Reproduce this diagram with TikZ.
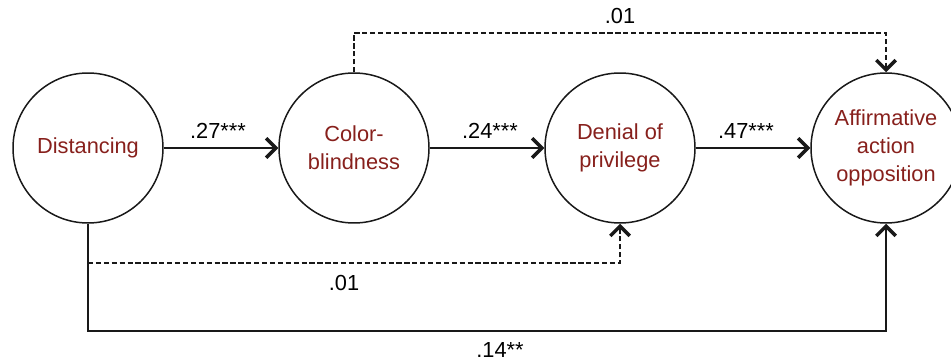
\documentclass[tikz,border=0pt]{standalone}
\usepackage{fontspec}
\setmainfont{Liberation Sans}
\usetikzlibrary{positioning, arrows.meta, calc}
\definecolor{VarRed}{RGB}{135,32,28}
\definecolor{PathGray}{RGB}{25,25,25}

\begin{document}
\begin{tikzpicture}[
          var/.style={circle, draw=PathGray, line width=0.85pt, minimum size=3cm,
                      inner sep=0pt, align=center, text=VarRed, font=\fontsize{12.4}{16}\selectfont},
          coef/.style={font=\fontsize{12.4}{15}\selectfont, text=black},
          path/.style={-{Straight Barb[length=5.5pt, width=11pt, line width=2pt]}, line width=1.25pt, PathGray},
          nspath/.style={-{Straight Barb[length=5.5pt, width=11pt, line width=2pt]}, line width=0.85pt,
                         dash pattern=on 3pt off 1.5pt, PathGray}
        ]
        \useasboundingbox (0,0) rectangle (19.02,7.24);

        % Variables
        \node[var] (dist) at (1.76, 4.28) {Distancing};
        \node[var] (cb)   at (7.08, 4.28) {Color-\\blindness};
        \node[var] (den)  at (12.40, 4.28) {Denial of\\privilege};
        \node[var] (aao)  at (17.72, 4.28) {Affirmative\\action\\opposition};

        % Direct chain
        \draw[path] (dist) -- (cb);
        \draw[path] (cb) -- (den);
        \draw[path] (den) -- (aao);
        \node[coef] at (4.36, 4.62) {.27***};
        \node[coef] at (9.80, 4.62) {.24***};
        \node[coef] at (14.92, 4.62) {.47***};

        % Color-blindness -> opposition (ns)
        \coordinate (topR) at (17.72, 6.58);
        \draw[nspath] (cb.north) |- (topR) -- (aao.north);
        \node[coef] (ctop) at (12.40, 6.92) {.01};

        % Distancing -> denial (ns)
        \coordinate (botJ) at (1.76, 1.98);
        \coordinate (botD) at (12.40, 1.98);
        \draw[nspath] (botJ) -- (botD) -- (den.south);
        \node[coef] (cmid) at (6.88, 1.58) {.01};

        % Distancing -> opposition
        \coordinate (botR) at (17.72, 0.62);
        \draw[path] (dist.south) |- (botR) -- (aao.south);
        \node[coef] (cbot) at (10.00, 0.24) {.14**};
      \end{tikzpicture}
\end{document}
